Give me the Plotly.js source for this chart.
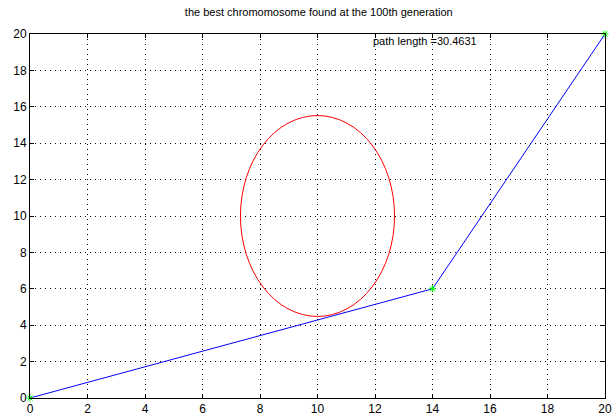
<!DOCTYPE html>
<html><head><meta charset="utf-8">
<script src="https://cdn.plot.ly/plotly-3.0.1.min.js"></script>
<style>html,body{margin:0;padding:0;background:#fff;}#c{width:613px;height:417px;}</style>
</head><body><div id="c"></div>
<script>
// path through the points
var pathX = [0, 14, 20];
var pathY = [0, 6, 20];
// obstacle ellipse (as drawn): center and radii in data units
var circleCenter = [10, 10];
var circleRadii = [2.68, 5.52];
var pathLengthText = "path length =30.4631";
var textPos = [11.85, 19.6];
var titleText = "the best chromomosome found at the 100th generation";
var tickVals = [0, 2, 4, 6, 8, 10, 12, 14, 16, 18, 20];

var font = "'Liberation Sans Narrow', 'Arial Narrow', 'Liberation Sans', Arial, sans-serif";

var axisCommon = {
  range: [0, 20], tickvals: tickVals, ticktext: tickVals.map(String),
  ticks: 'inside', ticklen: 4, tickcolor: '#000', tickwidth: 1,
  showline: true, linecolor: '#000', linewidth: 1, mirror: 'allticks',
  showgrid: true, gridcolor: '#000', gridwidth: 1, griddash: '1px,4px',
  zeroline: false, tickfont: {family: font, size: 12, color: '#000'},
  ticklabeloverflow: 'allow', automargin: false,
  fixedrange: true
};

var traces = [
  {x: pathX, y: pathY, mode: 'lines', line: {color: '#0000ff', width: 1}, hoverinfo: 'skip', cliponaxis: false},
  {x: pathX, y: pathY, mode: 'markers', cliponaxis: false, marker: {symbol: 'asterisk-open', size: 6, color: '#00ff00', line: {color: '#00ff00', width: 1}}, hoverinfo: 'skip'}
];

var layout = {
  width: 613, height: 417,
  margin: {l: 30, r: 8, t: 34, b: 19},
  paper_bgcolor: '#fff', plot_bgcolor: '#fff',
  showlegend: false,
  title: {text: titleText, font: {family: font, size: 11, color: '#000'}, x: 0.52, xanchor: 'center', y: 0.972, yanchor: 'middle'},
  xaxis: Object.assign({}, axisCommon),
  yaxis: Object.assign({}, axisCommon),
  shapes: [{
    type: 'circle', xref: 'x', yref: 'y',
    x0: circleCenter[0] - circleRadii[0], x1: circleCenter[0] + circleRadii[0],
    y0: circleCenter[1] - circleRadii[1], y1: circleCenter[1] + circleRadii[1],
    line: {color: '#ff0000', width: 1}
  }],
  annotations: [{
    x: textPos[0], y: textPos[1], xref: 'x', yref: 'y', text: pathLengthText,
    showarrow: false, xanchor: 'left', yanchor: 'middle',
    font: {family: font, size: 11, color: '#000'}
  }]
};

Plotly.newPlot('c', traces, layout, {displayModeBar: false, staticPlot: true});
</script>
</body></html>
